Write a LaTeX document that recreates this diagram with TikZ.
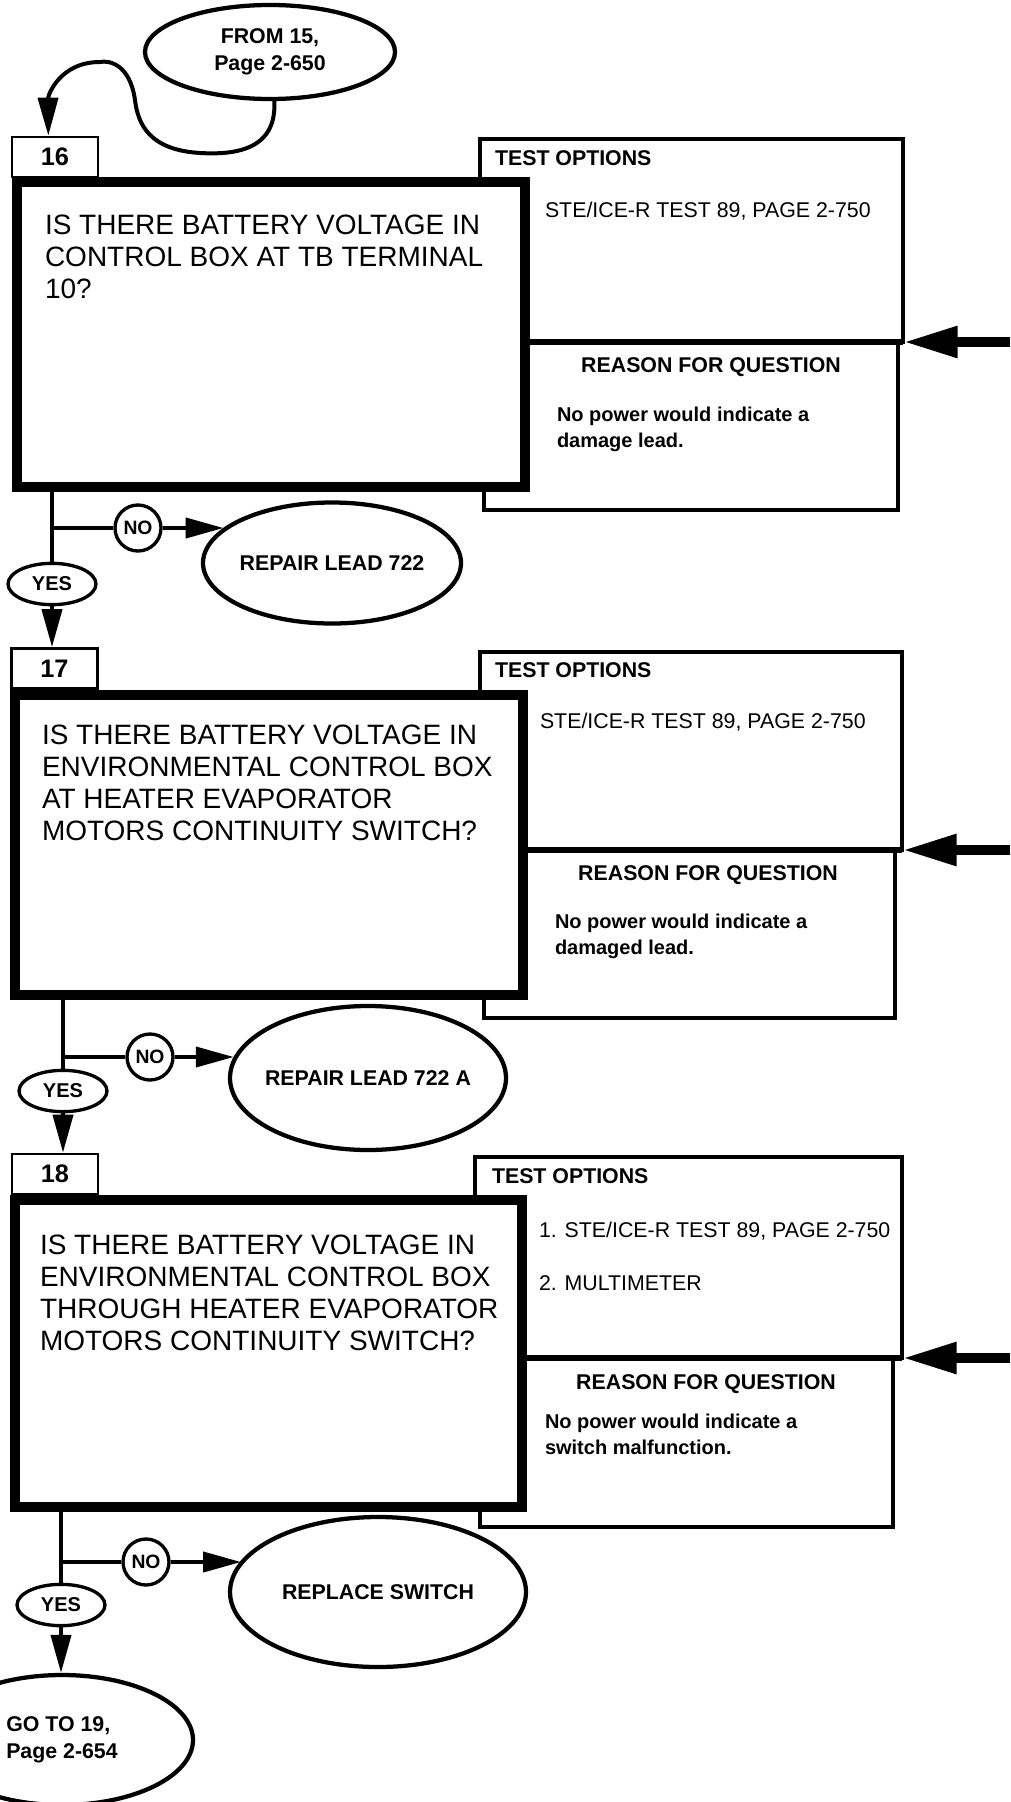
\documentclass[tikz,border=0pt]{standalone}
\usepackage{fontspec}
\setmainfont{Liberation Sans}
\usetikzlibrary{arrows.meta, shapes.geometric}

\begin{document}
\begin{tikzpicture}[x=0.75pt, y=-0.75pt, line width=3pt,
    qbox/.style={draw, line width=7.5pt, fill=white, inner sep=0pt},
    numbox/.style={draw, line width=2pt, fill=white, minimum width=64.5pt, minimum height=30pt, inner sep=0pt, font=\bfseries\fontsize{19}{22}\selectfont},
    qtext/.style={anchor=north west, inner sep=0pt, align=left, font=\fontsize{21}{24}\selectfont},
    head/.style={anchor=base west, inner sep=0pt, font=\bfseries\fontsize{16}{20}\selectfont},
    opttext/.style={anchor=base west, inner sep=0pt, font=\fontsize{16}{20}\selectfont},
    why/.style={anchor=north west, inner sep=0pt, align=left, font=\bfseries\fontsize{15}{19.5}\selectfont},
    oval/.style={ellipse, draw, line width=3.2pt, fill=white, inner sep=-8pt, align=center, font=\bfseries\fontsize{16}{20}\selectfont},
    yes/.style={ellipse, draw, line width=2.5pt, minimum width=66pt, minimum height=31pt, inner sep=0pt, font=\bfseries\fontsize{15}{18}\selectfont},
    no/.style={circle, draw, line width=2.5pt, minimum size=34.5pt, inner sep=0pt, font=\bfseries\fontsize{14.5}{16}\selectfont},
    flow/.style={-{Triangle[length=28.5pt, width=15pt]}},
    feed/.style={line width=8pt, -{Triangle[length=41pt, width=22pt]}}]
  \useasboundingbox (0,0) rectangle (1010,1802);

  % step 16
  \draw (480,139) rectangle (903,342);
  \draw (484,342) rectangle (898,510);
  \draw[line width=5pt] (525,342) -- (903,342);
  \node[oval, minimum width=187.5pt, minimum height=70.5pt] (from) at (270,52) {FROM 15,\\Page 2-650};
  \node[numbox] (n16) at (55,157) {16};
  \node[qbox, minimum width=381pt, minimum height=228.75pt] (q16) at (271,334.5) {};
  \node[qtext] (q16t) at (43,213) {IS THERE BATTERY VOLTAGE IN\\CONTROL BOX AT TB TERMINAL\\10?};
  \node[head] (t16) at (493,165) {TEST OPTIONS};
  \node[opttext] (s16) at (543,217) {STE/ICE-R TEST 89, PAGE 2-750};
  \node[head, anchor=base] (r16) at (711,372) {REASON FOR QUESTION};
  \node[why] (w16) at (555,405) {No power would indicate a\\damage lead.};
  \coordinate (in16) at (903,342);
  \coordinate (src16) at (1010,342);
  \draw[feed] (src16) -- (in16);
  \draw[flow] (from.-85) .. controls (277,150) and (235,155) .. (200,153)
    .. controls (150,150) and (138,125) .. (135,100)
    .. controls (130,65) and (110,60) .. (100,62)
    .. controls (60,62) and (48,95) .. ([xshift=-5pt]n16.north);

  \node[yes] (y16) at (52,584) {YES};
  \node[no] (no16) at (138,528) {NO};
  \node[oval, minimum width=193.5pt, minimum height=90.75pt] (fix16) at (332,563) {REPAIR LEAD 722};
  \draw (y16.north |- q16.south) -- (y16.north);
  \draw (y16.north |- no16) -- (no16.west);
  \draw[flow] (no16.east) -- (no16.east -| fix16.162);

  % step 17
  \draw (480,652) rectangle (902,850);
  \draw (484,850) rectangle (895,1018);
  \draw[line width=5pt] (523,850) -- (902,850);
  \node[numbox] (n17) at (54.5,668.5) {17};
  \draw[flow] (y16.south) -- (y16.south |- n17.north);
  \node[qbox, minimum width=381pt, minimum height=225pt] (q17) at (269,845) {};
  \node[qtext] (q17t) at (40,723) {IS THERE BATTERY VOLTAGE IN\\ENVIRONMENTAL CONTROL BOX\\AT HEATER EVAPORATOR\\MOTORS CONTINUITY SWITCH?};
  \node[head] (t17) at (493,677) {TEST OPTIONS};
  \node[opttext] (s17) at (538,728) {STE/ICE-R TEST 89, PAGE 2-750};
  \node[head, anchor=base] (r17) at (708,880) {REASON FOR QUESTION};
  \node[why] (w17) at (553,912) {No power would indicate a\\damaged lead.};
  \coordinate (in17) at (902,850);
  \coordinate (src17) at (1010,850);
  \draw[feed] (src17) -- (in17);

  \node[yes] (y17) at (63,1091) {YES};
  \node[no] (no17) at (150,1057) {NO};
  \node[oval, minimum width=207pt, minimum height=108pt] (fix17) at (368,1078) {REPAIR LEAD 722 A};
  \draw (y17.north |- q17.south) -- (y17.north);
  \draw (y17.north |- no17) -- (no17.west);
  \draw[flow] (no17.east) -- (no17.east -| fix17.171);

  % step 18
  \draw (475,1157) rectangle (902,1358);
  \draw (480,1358) rectangle (893,1527);
  \draw[line width=5pt] (522,1358) -- (902,1358);
  \node[numbox] (n18) at (55,1174) {18};
  \draw[flow] (y17.south) -- (y17.south |- n18.north);
  \node[qbox, minimum width=380.25pt, minimum height=230.25pt] (q18) at (268.5,1353.5) {};
  \node[qtext] (q18t) at (38,1233) {IS THERE BATTERY VOLTAGE IN\\ENVIRONMENTAL CONTROL BOX\\THROUGH HEATER EVAPORATOR\\MOTORS CONTINUITY SWITCH?};
  \node[head] (t18) at (490,1183) {TEST OPTIONS};
  \node[opttext] (s18a) at (537,1237) {1. STE/ICE-R TEST 89, PAGE 2-750};
  \node[opttext] (s18b) at (537,1290) {2. MULTIMETER};
  \node[head, anchor=base] (r18) at (706,1389) {REASON FOR QUESTION};
  \node[why] (w18) at (543,1412) {No power would indicate a\\switch malfunction.};
  \coordinate (in18) at (902,1358);
  \coordinate (src18) at (1010,1358);
  \draw[feed] (src18) -- (in18);

  \node[yes] (y18) at (61,1605) {YES};
  \node[no] (no18) at (146,1562) {NO};
  \node[oval, minimum width=222pt, minimum height=112.5pt] (fix18) at (378,1592) {REPLACE SWITCH};
  \node[oval, minimum width=196.5pt, minimum height=97.5pt, align=left] (goto) at (62,1740) {GO TO 19,\\Page 2-654};
  \draw (y18.north |- q18.south) -- (y18.north);
  \draw (y18.north |- no18) -- (no18.west);
  \draw[flow] (no18.east) -- (no18.east -| fix18.167);
  \draw[flow] (y18.south) -- (y18.south |- goto.north);
\end{tikzpicture}
\end{document}
